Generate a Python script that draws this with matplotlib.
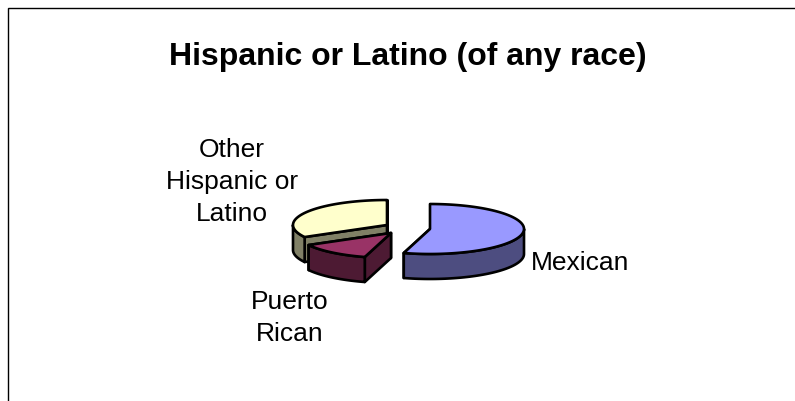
import numpy as np
import matplotlib
matplotlib.use("Agg")
import matplotlib.pyplot as plt
from matplotlib.patches import Polygon

plt.rcParams['font.family'] = ['Liberation Sans', 'DejaVu Sans']

title = "Hispanic or Latino (of any race)"
categories = ["Mexican", "Puerto\nRican", "Other\nHispanic or\nLatino"]
values = [54.5, 12.5, 33.0]
top_colors = ["#9999FF", "#993366", "#FFFFCC"]
side_colors = ["#4D4D80", "#4D1A33", "#808066"]
apexes = [(430, 229), (391, 233), (387, 225)]
label_pos = [(580, 263), (290, 318), (232, 182)]
RX, RY, DEPTH = 94, 25, 25
LW = 1.9

fig = plt.figure(figsize=(7.95, 4.01), dpi=100, facecolor="white")
ax = fig.add_axes([0, 0, 1, 1])
ax.set_xlim(0, 795)
ax.set_ylim(401, 0)
ax.axis("off")

ax.plot([8, 8, 795], [401, 8, 8], color="black", lw=1.0, solid_joinstyle="miter", clip_on=False)


def rim(cx, cy, t):
    return np.column_stack([cx + RX * np.sin(t), cy - RY * np.cos(t)])


def add(poly, color, z):
    ax.add_patch(Polygon(poly, closed=True, facecolor=color, edgecolor="black",
                         linewidth=LW, joinstyle="round", zorder=z))


bounds = np.concatenate([[0], np.cumsum(values)]) / np.sum(values) * 2 * np.pi
# painter's order: back slice first
for i in [2, 1, 0]:
    cx, cy = apexes[i]
    a, b = bounds[i], bounds[i + 1]
    z = 3 - i
    for ang in (b, a):
        p = rim(cx, cy, np.array([ang]))[0]
        add([(cx, cy), p, (p[0], p[1] + DEPTH), (cx, cy + DEPTH)], side_colors[i], z)
    lo, hi = max(a, np.pi / 2), min(b, 3 * np.pi / 2)
    if hi > lo:
        arc = rim(cx, cy, np.linspace(lo, hi, 60))
        low = arc[::-1] + [0, DEPTH]
        add(np.vstack([arc, low]), side_colors[i], z)
    top = rim(cx, cy, np.linspace(a, b, 120))
    add(np.vstack([[(cx, cy)], top]), top_colors[i], z)

for cat, (x, y) in zip(categories, label_pos):
    ax.text(x, y, cat, ha="center", va="center", fontsize=19, color="black",
            linespacing=1.44, zorder=5)

ax.text(408, 57, title, ha="center", va="center", fontsize=23, fontweight="bold", color="black")

fig.savefig("out.png", dpi=100)
